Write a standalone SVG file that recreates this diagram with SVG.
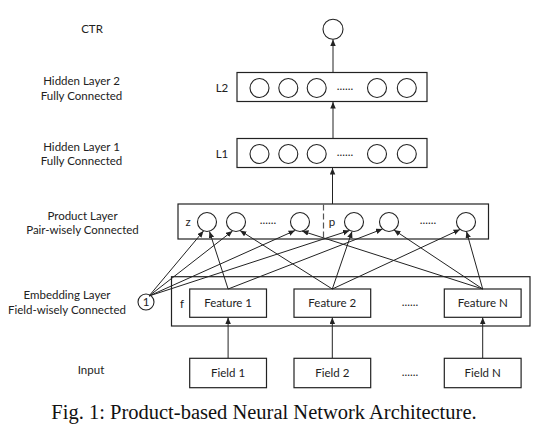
<svg xmlns="http://www.w3.org/2000/svg" width="551" height="437" viewBox="0 0 551 437">
<defs>
<style>
.lbl{font-family:Lato,"Liberation Sans",sans-serif;font-size:11.5px;fill:#222;}
.mid{text-anchor:middle;}
.box{fill:#fff;stroke:#222;stroke-width:1.2;}
.nd{fill:#fff;stroke:#222;stroke-width:1.1;}
.ln{stroke:#222;stroke-width:1;fill:none;marker-end:url(#ah);}
.cap{font-family:"Liberation Serif","Times New Roman",serif;font-size:20.5px;fill:#111;text-anchor:middle;}
</style>
<marker id="ah" markerUnits="userSpaceOnUse" markerWidth="7" markerHeight="6" refX="6.5" refY="2.75" orient="auto">
<path d="M0,0 L6.5,2.75 L0,5.5 z" fill="#222"/>
</marker>
</defs>
<rect width="551" height="437" fill="#fff"/>

<g id="left-labels">
<text class="lbl mid" x="92" y="33">CTR</text>
<text class="lbl mid" x="81.5" y="85">Hidden Layer 2</text>
<text class="lbl mid" x="81.5" y="100">Fully Connected</text>
<text class="lbl mid" x="81.5" y="151">Hidden Layer 1</text>
<text class="lbl mid" x="81.5" y="165">Fully Connected</text>
<text class="lbl mid" x="82.5" y="220">Product Layer</text>
<text class="lbl mid" x="82.5" y="234">Pair-wisely Connected</text>
<text class="lbl mid" x="67" y="299">Embedding Layer</text>
<text class="lbl mid" x="67" y="314">Field-wisely Connected</text>
<text class="lbl mid" x="91" y="374">Input</text>
</g>

<g id="ctr">
<circle class="nd" cx="333" cy="29.3" r="10"/>
</g>

<g id="hidden2">
<rect class="box" x="237" y="72.5" width="190" height="29"/>
<text class="lbl mid" x="222" y="92">L2</text>
<circle class="nd" cx="259.5" cy="88" r="9.5"/>
<circle class="nd" cx="288.3" cy="88" r="9.5"/>
<circle class="nd" cx="316.7" cy="88" r="9.5"/>
<text class="lbl mid" x="345" y="90">......</text>
<circle class="nd" cx="377" cy="88" r="9.5"/>
<circle class="nd" cx="406.8" cy="88" r="9.5"/>
</g>

<g id="hidden1">
<rect class="box" x="237" y="138.5" width="190" height="29"/>
<text class="lbl mid" x="222" y="158">L1</text>
<circle class="nd" cx="259.5" cy="154" r="9.5"/>
<circle class="nd" cx="288.3" cy="154" r="9.5"/>
<circle class="nd" cx="316.7" cy="154" r="9.5"/>
<text class="lbl mid" x="345" y="156">......</text>
<circle class="nd" cx="377" cy="154" r="9.5"/>
<circle class="nd" cx="406.8" cy="154" r="9.5"/>
</g>

<g id="product">
<rect class="box" x="178" y="204" width="310.5" height="35"/>
<line x1="323.5" y1="204.5" x2="323.5" y2="238.5" stroke="#555" stroke-width="1.2" stroke-dasharray="6,3"/>
<text class="lbl mid" x="188" y="226">z</text>
<circle class="nd" cx="207" cy="222" r="9.5"/>
<circle class="nd" cx="236" cy="222" r="9.5"/>
<text class="lbl mid" x="268" y="224">......</text>
<circle class="nd" cx="300" cy="222" r="9.5"/>
<text class="lbl mid" x="332" y="226">p</text>
<circle class="nd" cx="354" cy="222" r="9.5"/>
<circle class="nd" cx="389" cy="222" r="9.5"/>
<text class="lbl mid" x="428" y="224">......</text>
<circle class="nd" cx="466" cy="222" r="9.5"/>
</g>

<g id="embedding">
<rect class="box" x="171.5" y="276.7" width="358.5" height="49.3"/>
<text class="lbl mid" x="182" y="307.5">f</text>
<text class="lbl mid" x="410" y="306">......</text>
<circle class="nd" cx="146" cy="302" r="8"/>
<text class="lbl mid" x="146" y="306">1</text>
</g>
<g id="feature1">
<rect class="box" x="189.7" y="289" width="76.8" height="28.3"/>
<text class="lbl mid" x="228.1" y="307">Feature 1</text>
</g>
<g id="feature2">
<rect class="box" x="294" y="289" width="76.7" height="28.3"/>
<text class="lbl mid" x="332.3" y="307">Feature 2</text>
</g>
<g id="featureN">
<rect class="box" x="444.3" y="289" width="76.8" height="28.3"/>
<text class="lbl mid" x="482.7" y="307">Feature N</text>
</g>

<g id="field1">
<rect class="box" x="189.7" y="358.3" width="76.8" height="29.4"/>
<text class="lbl mid" x="228.1" y="377">Field 1</text>
</g>
<g id="field2">
<rect class="box" x="294" y="358.3" width="76.7" height="29.4"/>
<text class="lbl mid" x="332.3" y="377">Field 2</text>
</g>
<g id="fieldN">
<rect class="box" x="444.3" y="358.3" width="76.8" height="29.4"/>
<text class="lbl mid" x="482.7" y="377">Field N</text>
</g>
<text class="lbl mid" x="410" y="376">......</text>

<g id="connectors">
<line class="ln" x1="333" y1="72" x2="333" y2="39.5"/>
<line class="ln" x1="333" y1="138" x2="333" y2="102"/>
<line class="ln" x1="332.5" y1="204" x2="332.5" y2="168"/>
<line class="ln" x1="228.1" y1="358" x2="228.1" y2="317.5"/>
<line class="ln" x1="332.3" y1="358" x2="332.3" y2="317.5"/>
<line class="ln" x1="482.7" y1="358" x2="482.7" y2="317.5"/>

<line class="ln" x1="149" y1="296" x2="203.5" y2="231"/>
<line class="ln" x1="149" y1="296" x2="232.5" y2="231"/>
<line class="ln" x1="149" y1="296" x2="295" y2="230.5"/>
<line class="ln" x1="149" y1="296" x2="349.5" y2="230.5"/>

<line class="ln" x1="228.1" y1="289" x2="209.5" y2="231.5"/>
<line class="ln" x1="228.1" y1="289" x2="382.5" y2="229"/>

<line class="ln" x1="332.3" y1="289" x2="240" y2="230.5"/>
<line class="ln" x1="332.3" y1="289" x2="352" y2="231.5"/>
<line class="ln" x1="332.3" y1="289" x2="460" y2="229.5"/>

<line class="ln" x1="482.7" y1="289" x2="302" y2="231"/>
<line class="ln" x1="482.7" y1="289" x2="394" y2="230"/>
<line class="ln" x1="482.7" y1="289" x2="466.5" y2="231.5"/>
</g>

<text class="cap" x="264" y="419">Fig. 1: Product-based Neural Network Architecture.</text>
</svg>
